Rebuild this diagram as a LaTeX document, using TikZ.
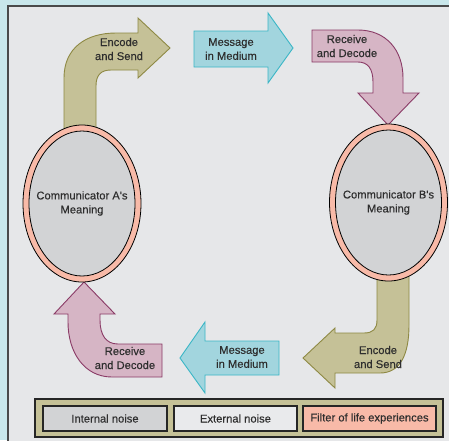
\documentclass[tikz,border=0pt]{standalone}
\usepackage{fontspec}
\setmainfont{Liberation Sans}
\newfontface\labelface{Liberation Sans}[FakeBold=0.35]
\usetikzlibrary{shapes.geometric}

\definecolor{bgcyan}{HTML}{C9E7EB}
\definecolor{panelgray}{HTML}{E6E7E9}
\definecolor{panelline}{HTML}{4A4A4A}
\definecolor{olivefill}{HTML}{C5C197}
\definecolor{oliveline}{HTML}{8E8944}
\definecolor{cyanfill}{HTML}{A2D5DE}
\definecolor{cyanline}{HTML}{3BB6C6}
\definecolor{pinkfill}{HTML}{D6B5C5}
\definecolor{pinkline}{HTML}{8A3B66}
\definecolor{meangray}{HTML}{D2D3D5}
\definecolor{salmon}{HTML}{F8BAA8}
\definecolor{extfill}{HTML}{E9EAEC}
\definecolor{txt}{HTML}{2E2E2E}

\tikzset{
  lbl/.style={align=center, text=txt, inner sep=0pt,
    font=\labelface\fontsize{11.2}{14}\selectfont},
  olivearrow/.style={fill=olivefill, draw=oliveline, line width=0.9pt, line join=miter},
  cyanarrow/.style={fill=cyanfill, draw=cyanline, line width=0.9pt, line join=miter},
  pinkarrow/.style={fill=pinkfill, draw=pinkline, line width=0.9pt, line join=miter},
  ring/.style={ellipse, fill=salmon, draw=black, line width=0.8pt,
    minimum width=118pt, minimum height=157pt, inner sep=0pt},
  core/.style={ellipse, fill=meangray, draw=black, line width=0.8pt,
    minimum width=106pt, minimum height=145pt, inner sep=0pt},
  keybox/.style={draw=black!85, line width=1.1pt, minimum height=25pt,
    inner sep=0pt, text=txt, font=\labelface\fontsize{11.2}{14}\selectfont},
}

\begin{document}
\begin{tikzpicture}[x=1pt, y=-1pt]
  % page and inner panel
  \fill[bgcyan] (0,0) rectangle (449,440);
  \useasboundingbox (0,0) rectangle (449,440);
  \draw[fill=panelgray, draw=panelline, line width=1.3pt] (8,6) rectangle (470,460);

  % A -> medium: encode and send
  \draw[olivearrow] (64,150) -- (64,78) .. controls (64,48) and (86,33) .. (116,33)
    -- (138,33) -- (138,18) -- (170,48) -- (138,78) -- (138,70) -- (111,70)
    .. controls (101,70) and (96,75) .. (96,86) -- (96,150) -- cycle;
  \node[lbl] (encA) at (119,49) {Encode\\and Send};

  % message in medium (top)
  \draw[cyanarrow] (194,31) -- (268,31) -- (268,13) -- (293,48) -- (268,83)
    -- (268,67) -- (194,67) -- cycle;
  \node[lbl] (medTop) at (231,49) {Message\\in Medium};

  % medium -> B: receive and decode
  \draw[pinkarrow] (312,30) -- (358,30) .. controls (386,30) and (403,50) .. (403,78)
    -- (403,93) -- (419,93) -- (388,125) -- (358,93) -- (373,93) -- (373,82)
    .. controls (373,69) and (368,62) .. (358,62) -- (312,62) -- cycle;
  \node[lbl] (decB) at (347,46) {Receive\\and Decode};

  % B -> medium: encode and send
  \draw[olivearrow] (409,260) -- (409,325) .. controls (409,355) and (400,373) .. (380,373)
    -- (335,373) -- (335,388) -- (303,358) -- (335,328) -- (335,333) -- (364,333)
    .. controls (373,333) and (377,329) .. (377,320) -- (377,260) -- cycle;
  \node[lbl] (encB) at (378,357) {Encode\\and Send};

  % message in medium (bottom)
  \draw[cyanarrow] (279,341) -- (205,341) -- (205,322) -- (180,358) -- (205,393)
    -- (205,375) -- (279,375) -- cycle;
  \node[lbl] (medBot) at (242,357) {Message\\in Medium};

  % medium -> A: receive and decode
  \draw[pinkarrow] (162,344) -- (162,377) -- (112,377) .. controls (84,377) and (68,352) .. (68,322)
    -- (68,314) -- (54,314) -- (84,282) -- (115,314) -- (100,314) -- (100,320)
    .. controls (100,335) and (106,344) .. (118,344) -- cycle;
  \node[lbl] (decA) at (125,358) {Receive\\and Decode};

  % communicators, each wrapped in its filter of life experiences
  \node[ring] (ringA) at (82,203.5) {};
  \node[core] (coreA) at (82,203.5) {};
  \node[lbl] (commA) at (coreA.center) {Communicator A's\\Meaning};
  \node[ring] (ringB) at (388.5,202.5) {};
  \node[core] (coreB) at (388.5,202.5) {};
  \node[lbl] (commB) at (coreB.center) {Communicator B's\\Meaning};

  % key
  \draw[fill=olivefill, draw=black!85, line width=1.1pt] (35,399) rectangle (443,437);
  \node[keybox, fill=meangray, minimum width=124pt] (kint) at (105,418.5) {Internal noise};
  \node[keybox, fill=extfill, minimum width=123pt] (kext) at (235.5,418.5) {External noise};
  \node[keybox, fill=salmon, minimum width=133pt] (kfil) at (369.5,418.5) {Filter of life experiences};
\end{tikzpicture}
\end{document}
